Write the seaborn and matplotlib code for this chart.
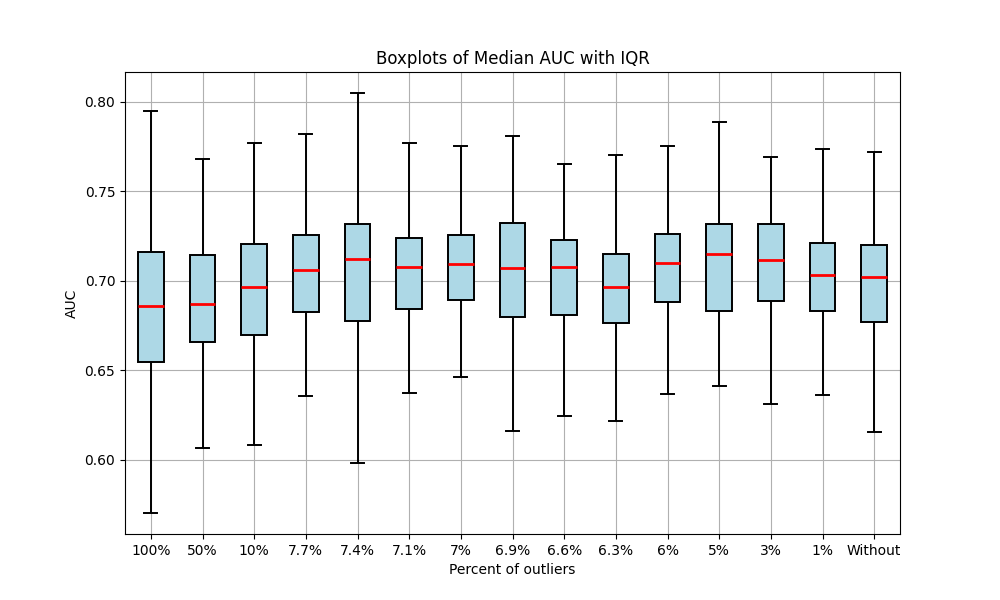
import matplotlib
matplotlib.use("Agg")
import matplotlib.pyplot as plt
import seaborn as sns
import pandas as pd

categories = ["100%", "50%", "10%", "7.7%", "7.4%", "7.1%", "7%", "6.9%",
              "6.6%", "6.3%", "6%", "5%", "3%", "1%", "Without"]
whisker_low = [0.5704, 0.6067, 0.6086, 0.6359, 0.5985, 0.6375, 0.6463, 0.6162,
               0.6247, 0.6217, 0.6370, 0.6413, 0.6312, 0.6364, 0.6154]
q1 = [0.6545, 0.6656, 0.6697, 0.6827, 0.6773, 0.6844, 0.6890, 0.6797,
      0.6809, 0.6762, 0.6883, 0.6831, 0.6885, 0.6829, 0.6768]
median = [0.6862, 0.6868, 0.6963, 0.7061, 0.7123, 0.7076, 0.7095, 0.7074,
          0.7078, 0.6965, 0.7097, 0.7147, 0.7115, 0.7032, 0.7020]
q3 = [0.7160, 0.7143, 0.7203, 0.7258, 0.7316, 0.7236, 0.7255, 0.7320,
      0.7227, 0.7147, 0.7262, 0.7318, 0.7316, 0.7210, 0.7199]
whisker_high = [0.7946, 0.7677, 0.7770, 0.7820, 0.8048, 0.7770, 0.7753, 0.7807,
                0.7649, 0.7701, 0.7753, 0.7888, 0.7693, 0.7736, 0.7721]

rows = []
for i, c in enumerate(categories):
    for v in (whisker_low[i], q1[i], median[i], q3[i], whisker_high[i]):
        rows.append({"Percent of outliers": c, "AUC": v})
df = pd.DataFrame(rows)

fig, ax = plt.subplots(figsize=(10, 6), dpi=100)
sns.boxplot(data=df, x="Percent of outliers", y="AUC", order=categories,
            whis=(0, 100), width=0.5, color="lightblue", saturation=1,
            linecolor="black", linewidth=1.4, showfliers=False,
            medianprops={"color": "red", "linewidth": 2},
            ax=ax)
ax.grid(True)
ax.set_axisbelow(True)
ax.set_title("Boxplots of Median AUC with IQR")
ax.set_xlabel("Percent of outliers")
ax.set_ylabel("AUC")
for s in ax.spines.values():
    s.set_visible(True)
fig.savefig("out.png", dpi=100)
